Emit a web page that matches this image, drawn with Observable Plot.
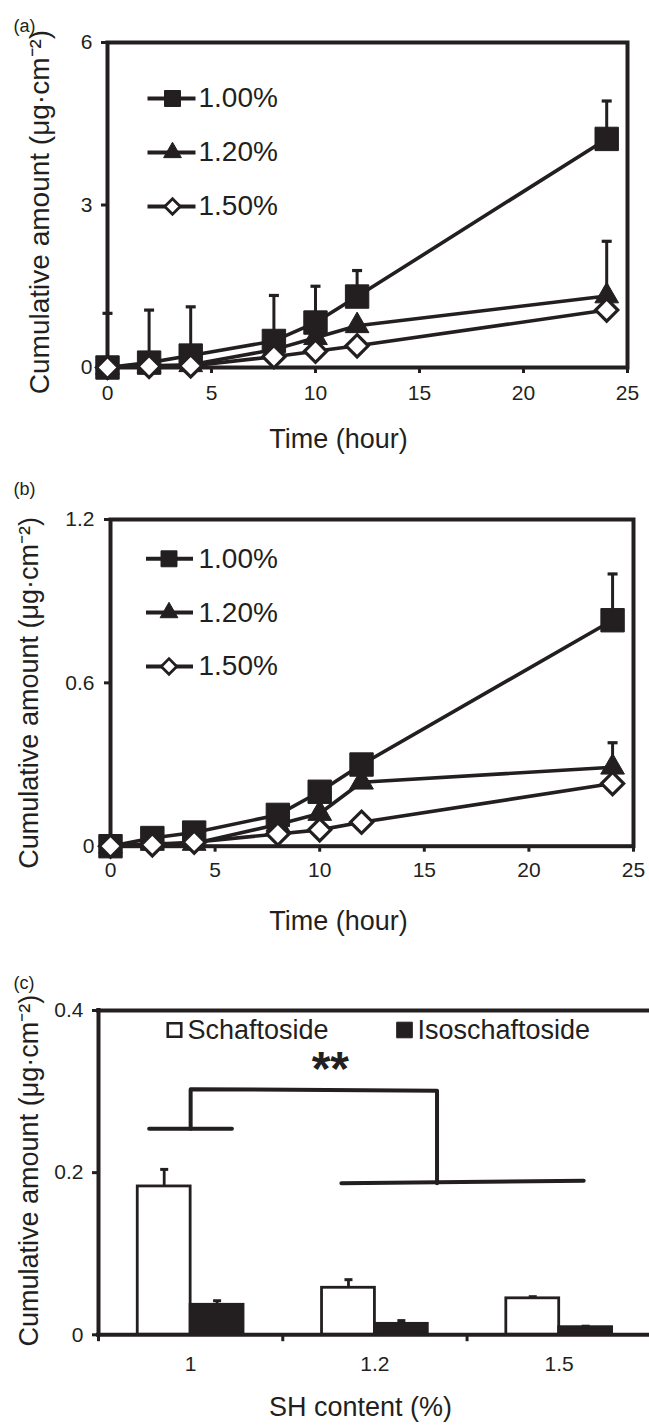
<!DOCTYPE html>
<html>
<head>
<meta charset="utf-8">
<script src="https://cdn.jsdelivr.net/npm/d3@7"></script>
<script src="https://cdn.jsdelivr.net/npm/@observablehq/plot@0.6"></script>
<style>
  html, body { margin: 0; padding: 0; background: #fff; }
  #chart { width: 649px; }
  #chart svg { display: block; }
</style>
</head>
<body>
<div id="chart"></div>
<script>
// ---------------- data ----------------
const times = [0, 2, 4, 8, 10, 12, 24];
const seriesNames = ["1.00%", "1.20%", "1.50%"];

// panel (a)
const a100 = [0, 0.09, 0.22, 0.49, 0.83, 1.31, 4.22];
const a120 = [0, 0.03, 0.05, 0.33, 0.55, 0.77, 1.32];
const a150 = [0, 0.02, 0.03, 0.20, 0.30, 0.40, 1.06];
const a100Err = [1.0, 0.97, 0.90, 0.84, 0.67, 0.48, 0.70];
const a120Err = [0, 0, 0, 0, 0, 0, 1.01];
const a150Err = [0, 0, 0, 0, 0, 0, 0];
const aTicks = [0, 3, 6];

// panel (b)
const b100 = [0, 0.03, 0.05, 0.115, 0.20, 0.30, 0.83];
const b120 = [0, 0.01, 0.01, 0.08, 0.12, 0.235, 0.29];
const b150 = [0, 0.005, 0.015, 0.045, 0.06, 0.088, 0.23];
const b100Err = [0, 0, 0, 0, 0, 0, 0.17];
const b120Err = [0, 0, 0, 0, 0, 0, 0.09];
const b150Err = [0, 0, 0, 0, 0, 0, 0];
const bTicks = [0, 0.6, 1.2];

const xTicks = [0, 5, 10, 15, 20, 25];

// panel (c)
const categories = ["1", "1.2", "1.5"];
const compounds = ["Schaftoside", "Isoschaftoside"];
const schaftoside = [0.183, 0.058, 0.045];
const schaftosideErr = [0.021, 0.010, 0.002];
const isoschaftoside = [0.037, 0.0135, 0.0094];
const isoschaftosideErr = [0.005, 0.004, 0.0012];
const cTicks = [0, 0.2, 0.4];

// significance annotation (panel c, in category-index / value units)
const bracketSegments = [
  {seg: "left", pts: [[0.775, 0.254], [1.224, 0.254]]},
  {seg: "link", pts: [[1.0, 0.254], [1.0, 0.303], [2.337, 0.301], [2.337, 0.187]]},
  {seg: "right", pts: [[1.818, 0.187], [3.133, 0.190]]}
];
const sigStars = [{x: 1.758, y: 0.327, label: "**"}];

const yTitle = "Cumulative amount (μg·cm⁻²)";
const timeTitle = "Time (hour)";
const cTitle = "SH content (%)";

// ---------------- styles ----------------
const INK = "#231f20";
const FONT = "'Liberation Sans', Arial, Helvetica, sans-serif";
const diamondSym = d3.symbolDiamond2 || "diamond";
const hline = w => ({draw(ctx) { ctx.moveTo(-w, 0); ctx.lineTo(w, 0); }});
const markerStyles = [
  {symbol: "square", r: 13.2, fill: INK, strokeWidth: 1, lr: 9, lsw: 1},
  {symbol: "triangle", r: 8.8, fill: INK, strokeWidth: 1, lr: 6.6, lsw: 1},
  {symbol: diamondSym, r: 10, fill: "white", strokeWidth: 3.2, lr: 7, lsw: 2.8}
];
const T = {lineAnchor: "middle", fill: INK};

function fixAxes(svg) {
  svg.querySelectorAll('g[aria-label*="axis"] text').forEach(t => t.style.setProperty("font-size", "21px", "important"));
  svg.querySelectorAll('g[aria-label*="axis"] line, g[aria-label*="axis"] path').forEach(p => {
    p.style.setProperty("stroke-width", "3px", "important");
    p.style.setProperty("stroke", INK, "important");
  });
  return svg;
}

function timePanel(cfg) {
  const marks = [Plot.frame({stroke: INK, strokeWidth: 4})];
  cfg.series.forEach((vals, k) => {
    const rows = times.map((t, i) => ({t, v: vals[i], e: cfg.errs[k][i], s: seriesNames[k]}));
    const er = rows.filter(d => d.e > 0);
    const st = markerStyles[k];
    marks.push(Plot.line(rows, {x: "t", y: "v", stroke: INK, strokeWidth: 3.6}));
    marks.push(Plot.ruleX(er, {x: "t", y1: "v", y2: d => d.v + d.e, stroke: INK, strokeWidth: 3}));
    marks.push(Plot.dot(er, {x: "t", y: d => d.v + d.e, symbol: hline(5), r: 5, fill: "none", stroke: INK, strokeWidth: 3.2}));
    marks.push(Plot.dot(rows, {x: "t", y: "v", symbol: st.symbol, r: st.r, fill: st.fill, stroke: INK, strokeWidth: st.strokeWidth}));
    // legend entry
    const L = cfg.legend, dy = L.y0 + k * L.step;
    marks.push(Plot.dot([seriesNames[k]], {frameAnchor: "top-left", dx: L.lineX, dy, symbol: hline(L.half), r: 5, fill: "none", stroke: INK, strokeWidth: 4}));
    marks.push(Plot.dot([seriesNames[k]], {frameAnchor: "top-left", dx: L.markX, dy, symbol: st.symbol, r: st.lr, fill: st.fill, stroke: INK, strokeWidth: st.lsw}));
    marks.push(Plot.text([seriesNames[k]], {...T, frameAnchor: "top-left", dx: L.textX, dy, text: d => d, textAnchor: "start", fontSize: 28}));
  });
  marks.push(Plot.text([cfg.tag], {...T, frameAnchor: "top-left", dx: cfg.tagPos[0], dy: cfg.tagPos[1], text: d => d, textAnchor: "start", fontSize: 18}));
  marks.push(Plot.text([timeTitle], {...T, frameAnchor: "bottom", dx: cfg.xTitlePos[0], dy: cfg.xTitlePos[1], text: d => d, textAnchor: "middle", fontSize: 27}));
  marks.push(Plot.text([yTitle], {...T, frameAnchor: "left", dx: cfg.yTitlePos[0], dy: cfg.yTitlePos[1], rotate: -90, text: d => d, textAnchor: "middle", fontSize: cfg.yTitleSize}));
  return fixAxes(Plot.plot({
    width: 649, height: cfg.height,
    marginLeft: cfg.m[0], marginRight: cfg.m[1], marginTop: cfg.m[2], marginBottom: cfg.m[3],
    style: {fontFamily: FONT, fontSize: "21px", color: INK, background: "white"},
    x: {domain: [0, 25], ticks: xTicks, tickSize: 6, tickPadding: cfg.xPad, label: null},
    y: {domain: cfg.yDomain, ticks: cfg.yTicks, tickFormat: d => String(d), tickSize: 6, tickPadding: cfg.yPad, label: null},
    marks
  }));
}

const chartA = timePanel({
  height: 475, m: [107, 22, 42, 108], xPad: 12, yPad: 9,
  yDomain: [0, 6], yTicks: aTicks,
  series: [a100, a120, a150], errs: [a100Err, a120Err, a150Err],
  legend: {lineX: 64, markX: 65, half: 24, textX: 91, y0: 56, step: 54},
  tag: "(a)", tagPos: [-94, -16.5],
  xTitlePos: [-29, 72], yTitlePos: [-67, 7], yTitleSize: 28
});
const chartB = timePanel({
  height: 480, m: [110, 16, 44, 109.3], xPad: 10, yPad: 10,
  yDomain: [0, 1.2], yTicks: bTicks,
  series: [b100, b120, b150], errs: [b100Err, b120Err, b150Err],
  legend: {lineX: 59, markX: 58.5, half: 23.5, textX: 88, y0: 39.3, step: 53.8},
  tag: "(b)", tagPos: [-97, -30],
  xTitlePos: [-33.5, 75], yTitlePos: [-81, 10], yTitleSize: 27
});

// ---------------- panel (c) ----------------
const barW = 0.287;
const barRows = [];
compounds.forEach((c, j) => {
  const vals = j === 0 ? schaftoside : isoschaftoside;
  const errs = j === 0 ? schaftosideErr : isoschaftosideErr;
  categories.forEach((cat, i) => {
    const pos = i + 1;
    barRows.push({compound: c, cat, pos, v: vals[i], e: errs[i],
      x1: j === 0 ? pos - barW : pos, x2: j === 0 ? pos : pos + barW});
  });
});
const bracketRows = bracketSegments.flatMap(s => s.pts.map(([x, y]) => ({seg: s.seg, x, y})));
const boundaries = categories.map((_, i) => i + 0.5).concat([categories.length + 0.5]);

const chartC = fixAxes(Plot.plot({
  width: 649, height: 471,
  marginLeft: 98, marginRight: 0, marginTop: 55, marginBottom: 91.7,
  style: {fontFamily: FONT, fontSize: "21px", color: INK, background: "white"},
  x: {domain: [0.5, 3.49], ticks: categories.map((_, i) => i + 1), tickFormat: i => categories[i - 1], tickSize: 0, tickPadding: 21, label: null},
  y: {domain: [0, 0.4], ticks: cTicks, tickFormat: d => String(d), tickSize: 6, tickPadding: 9, label: null},
  marks: [
    Plot.rect(barRows, {x1: "x1", x2: "x2", y1: 0, y2: "v", fill: d => d.compound === compounds[0] ? "white" : INK, stroke: INK, strokeWidth: 2.8}),
    Plot.ruleX(barRows, {x: d => (d.x1 + d.x2) / 2, y1: "v", y2: d => d.v + d.e, stroke: INK, strokeWidth: 2.8}),
    Plot.dot(barRows, {x: d => (d.x1 + d.x2) / 2, y: d => d.v + d.e, symbol: hline(4), r: 4, fill: "none", stroke: INK, strokeWidth: 3}),
    Plot.ruleY([0.4], {stroke: INK, strokeWidth: 4, strokeLinecap: "square"}),
    Plot.ruleX([0.5], {stroke: INK, strokeWidth: 4, strokeLinecap: "square"}),
    Plot.ruleY([0], {stroke: INK, strokeWidth: 4, strokeLinecap: "square"}),
    Plot.ruleX(boundaries, {x: d => d, y1: 0, y2: -0.0085, stroke: INK, strokeWidth: 3}),
    Plot.line(bracketRows, {x: "x", y: "y", z: "seg", stroke: INK, strokeWidth: 4}),
    Plot.text(sigStars, {x: "x", y: "y", text: "label", fontSize: 48, fontWeight: "bold", fill: INK, lineAnchor: "middle"}),
    // legend
    Plot.dot([compounds[0]], {frameAnchor: "top-left", dx: 76, dy: 19.5, symbol: "square", r: 7.6, fill: "white", stroke: INK, strokeWidth: 2.6}),
    Plot.text([compounds[0]], {...T, frameAnchor: "top-left", dx: 89, dy: 19.5, text: d => d, textAnchor: "start", fontSize: 27}),
    Plot.dot([compounds[1]], {frameAnchor: "top-left", dx: 306, dy: 19.5, symbol: "square", r: 8.8, fill: INK, stroke: INK, strokeWidth: 1}),
    Plot.text([compounds[1]], {...T, frameAnchor: "top-left", dx: 319, dy: 19.5, text: d => d, textAnchor: "start", fontSize: 27}),
    // titles
    Plot.text(["(c)"], {...T, frameAnchor: "top-left", dx: -85, dy: -27.5, text: d => d, textAnchor: "start", fontSize: 18}),
    Plot.text([cTitle], {...T, frameAnchor: "bottom", dx: -13.5, dy: 72.7, text: d => d, textAnchor: "middle", fontSize: 27}),
    Plot.text([yTitle], {...T, frameAnchor: "left", dx: -69, dy: -2, rotate: -90, text: d => d, textAnchor: "middle", fontSize: 27})
  ]
}));

const root = document.getElementById("chart");
root.append(chartA, chartB, chartC);
</script>
</body>
</html>
